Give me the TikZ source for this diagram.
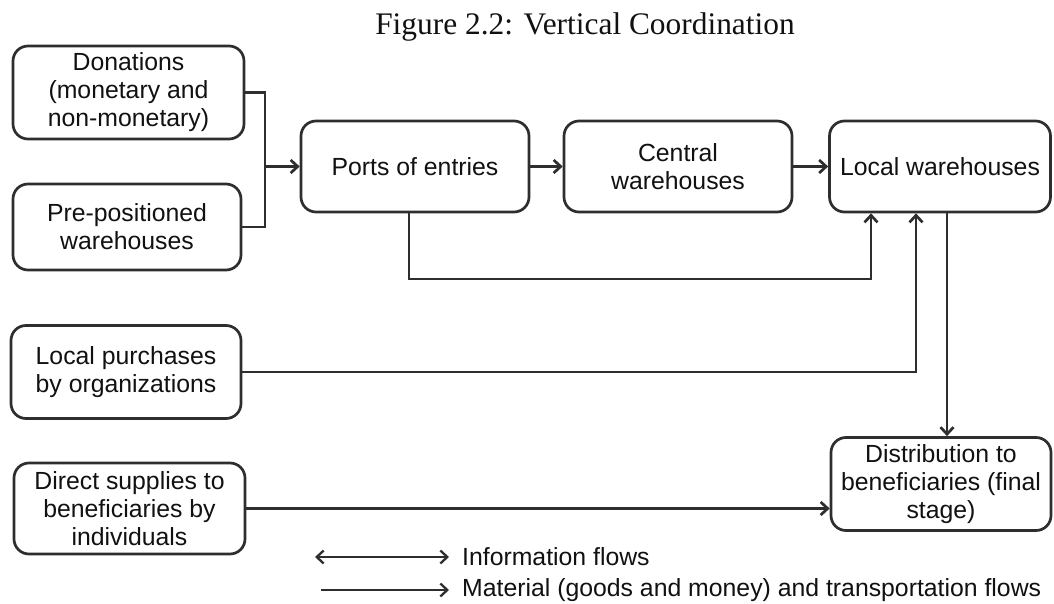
\documentclass[tikz,border=0pt]{standalone}
\usepackage{fontspec}
\setmainfont{Liberation Sans}
\newfontfamily\titlefont{Liberation Serif}
\usetikzlibrary{arrows.meta}
\definecolor{ink}{HTML}{2E2E2E}
\definecolor{txt}{HTML}{111111}
\begin{document}
\begin{tikzpicture}[x=1pt,y=-1pt,
  box/.style={draw=ink, line width=2.7pt, rounded corners=15pt, align=center,
    inner sep=0pt, text=txt, font=\fontsize{24.8}{28}\selectfont},
  link/.style={draw=ink, line width=2.7pt},
  tip/.style={},
  flow/.style={link, -{Straight Barb[length=7pt,width=13pt]}},
  info/.style={link, line width=2.3pt, {Straight Barb[length=7pt,width=13pt]}-{Straight Barb[length=7pt,width=13pt]}},
  lbl/.style={anchor=west, inner sep=0pt, text=txt, font=\fontsize{24.8}{28}\selectfont}]

% canvas
\path[use as bounding box, fill=white] (0,0) rectangle (1054,604);

% title
\node[anchor=base, inner sep=0pt, text=txt, font=\titlefont\fontsize{31.4}{36}\selectfont]
  (title) at (585,35) {Figure 2.2: Vertical Coordination};

% stages
\node[box, minimum width=231pt, minimum height=93pt] (don) at (128.5,92.5)
  {Donations\\(monetary and\\non-monetary)};
\node[box, minimum width=228pt, minimum height=86pt] (pre) at (127,227)
  {Pre-positioned\\warehouses};
\node[box, minimum width=228pt, minimum height=91pt] (ports) at (415,166.5)
  {Ports of entries};
\node[box, minimum width=228pt, minimum height=91pt] (central) at (678,166.5)
  {Central\\warehouses};
\node[box, minimum width=221pt, minimum height=91pt] (local) at (940,166.5)
  {Local warehouses};
\node[box, minimum width=230pt, minimum height=93pt] (lp) at (126,372)
  {Local purchases\\by organizations};
\node[box, minimum width=231pt, minimum height=91pt] (ds) at (129.5,508.5)
  {Direct supplies to\\beneficiaries by\\individuals};
\node[box, minimum width=220pt, minimum height=93pt] (dist) at (941,484)
  {Distribution to\\beneficiaries (final\\stage)};

% junction points
\coordinate (j) at (265,166.5);
\coordinate (pd) at (409,279);
\coordinate (pl) at (871,279);
\coordinate (lq) at (916,372);
\coordinate (ldx) at (947,300);

% material flows
\draw[link] (don.east) -| (j) |- (pre.east);
\draw[flow] (j) -- (ports.west);
\draw[flow] (ports.east) -- (central.west);
\draw[flow] (central.east) -- (local.west);
\draw[flow] (ports.south -| pd) -- (pd) -- (pl) -- (local.south -| pl);
\draw[flow] (lp.east) -- (lq) -- (local.south -| lq);
\draw[flow] (local.south -| ldx) -- (dist.north -| ldx);
\draw[flow] (ds.east) -- (dist.west |- ds.east);

% legend
\coordinate (i1) at (315,557);
\coordinate (i2) at (449,557);
\coordinate (m1) at (321,590);
\coordinate (m2) at (449,590);
\draw[info] (i1) -- (i2);
\node[lbl] (infol) at (462,557) {Information flows};
\draw[flow, line width=2.3pt] (m1) -- (m2);
\node[lbl] (matl) at (462,590) {Material (goods and money) and transportation flows};
\end{tikzpicture}
\end{document}
